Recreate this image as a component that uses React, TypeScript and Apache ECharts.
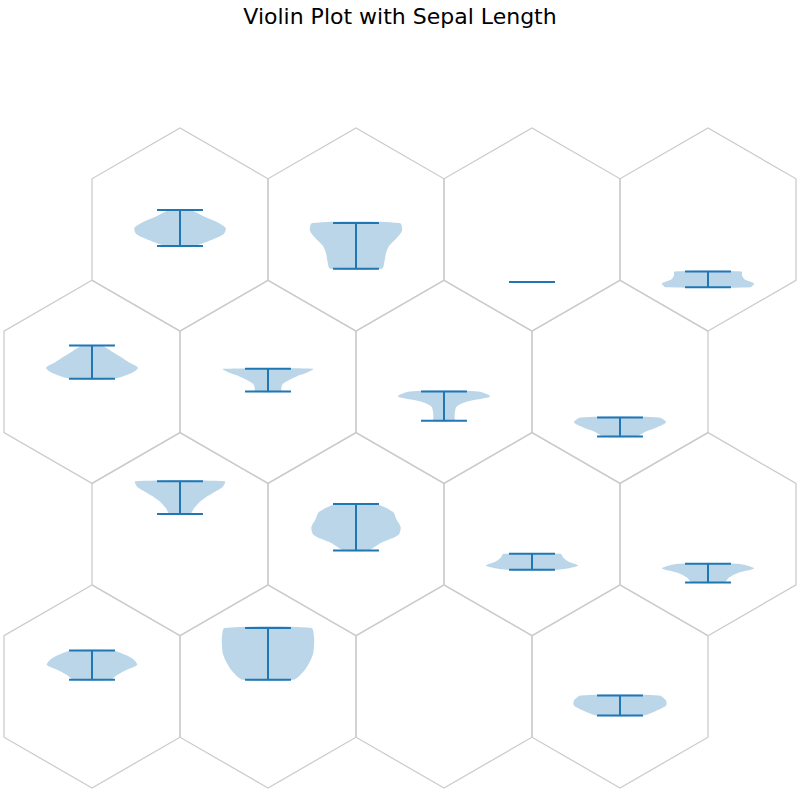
import React, { useEffect, useRef } from 'react';
import * as echarts from 'echarts';

// hex cell positions (row 0 at top; odd rows shifted half a cell left)
const cellRow = [0, 0, 0, 0, 1, 1, 1, 1, 2, 2, 2, 2, 3, 3, 3, 3];
const cellCol = [0, 1, 2, 3, 0, 1, 2, 3, 0, 1, 2, 3, 0, 1, 2, 3];

// violin extents, offset from the hex centre in hex-radius units (up is positive); null = empty cell
const violinLow: (number | null)[] = [
  -0.161, -0.385, -0.516, -0.568,
  0.03, -0.095, -0.384, -0.538,
  0.198, -0.16, -0.35, -0.475,
  0.067, 0.067, null, -0.287,
];
const violinHigh: (number | null)[] = [
  0.193, 0.065, -0.516, -0.414,
  0.357, 0.128, -0.095, -0.351,
  0.52, 0.296, -0.193, -0.291,
  0.355, 0.576, null, -0.088,
];

// normalised half-widths of each violin, sampled evenly from its bottom to its top
const violinShape: number[][] = [
  [0.29, 0.68, 0.95, 0.99, 0.8, 0.5, 0.22],
  [0.56, 0.62, 0.65, 0.72, 0.88, 1.0, 0.95],
  [],
  [0.92, 1.0, 0.8, 0.74, 0.73],
  [0.45, 0.85, 1.0, 0.8, 0.62, 0.42, 0.2],
  [0.28, 0.29, 0.32, 0.45, 0.62, 0.85, 0.98],
  [0.22, 0.23, 0.24, 0.28, 0.52, 1.0, 0.75],
  [0.35, 0.55, 0.82, 1.0, 0.85],
  [0.22, 0.3, 0.4, 0.55, 0.74, 0.93, 0.97],
  [0.25, 0.55, 0.92, 0.97, 0.88, 0.8, 0.42],
  [0.55, 1.0, 0.8, 0.68, 0.62],
  [0.35, 0.45, 0.65, 1.0, 0.65],
  [0.4, 0.55, 0.75, 0.98, 0.92, 0.75, 0.45],
  [0.55, 0.78, 0.9, 0.98, 1.0, 1.0, 0.94],
  [],
  [0.5, 0.8, 1.0, 1.0, 0.85],
];

const SQ3 = Math.sqrt(3);
const VIOLIN_W = 0.453; // max half-width in hex-radius units
const CAP_W = 0.226;

const App: React.FC = () => {
  const chartRef = useRef<HTMLDivElement>(null);

  useEffect(() => {
    document.body.style.margin = '0';
    if (!chartRef.current) return;
    const chart = echarts.init(chartRef.current, undefined, { renderer: 'svg' });

    const renderItem = (params: any, api: any) => {
      const i = api.value(0);
      const row = cellRow[i];
      const cx = SQ3 * (cellCol[i] + (row % 2 === 0 ? 1 : 0.5));
      const cy = 1 + 1.5 * row;
      const children: any[] = [];

      const hex: number[][] = [];
      for (let k = 0; k < 6; k++) {
        const a = ((90 + 60 * k) * Math.PI) / 180;
        hex.push(api.coord([cx + Math.cos(a), cy + Math.sin(a)]));
      }
      children.push({
        type: 'polygon',
        shape: { points: hex },
        style: { fill: 'none', stroke: '#cccccc', lineWidth: 1.3 },
      });

      const lo = violinLow[i];
      const hi = violinHigh[i];
      if (lo === null || hi === null) return { type: 'group', children };

      const shape = violinShape[i];
      if (shape.length > 1) {
        const right: number[][] = [];
        const left: number[][] = [];
        shape.forEach((s, j) => {
          const v = lo + ((hi - lo) * j) / (shape.length - 1);
          right.push(api.coord([cx + s * VIOLIN_W, cy - v]));
          left.push(api.coord([cx - s * VIOLIN_W, cy - v]));
        });
        children.push({
          type: 'polygon',
          shape: { points: right.concat(left.reverse()), smooth: 0.28 },
          style: { fill: 'rgba(31,119,180,0.3)', stroke: 'none' },
        });
      }

      const line = (x1: number, y1: number, x2: number, y2: number) => {
        const p1 = api.coord([x1, y1]);
        const p2 = api.coord([x2, y2]);
        children.push({
          type: 'line',
          shape: { x1: p1[0], y1: p1[1], x2: p2[0], y2: p2[1] },
          style: { stroke: '#1f77b4', lineWidth: 2 },
        });
      };
      line(cx - CAP_W, cy - lo, cx + CAP_W, cy - lo);
      line(cx - CAP_W, cy - hi, cx + CAP_W, cy - hi);
      if (hi > lo) line(cx, cy - lo, cx, cy - hi);

      return { type: 'group', children };
    };

    chart.setOption({
      animation: false,
      title: {
        text: 'Violin Plot with Sepal Length',
        left: 'center',
        top: 0,
        textStyle: { fontSize: 22, fontWeight: 'normal', color: '#000', fontFamily: 'DejaVu Sans' },
      },
      grid: { left: 4, top: 128, width: 792, height: 660 },
      xAxis: { type: 'value', min: 0, max: 4.5 * SQ3, show: false },
      yAxis: { type: 'value', min: 0, max: 6.5, inverse: true, show: false },
      series: [
        {
          type: 'custom',
          clip: false,
          silent: true,
          renderItem,
          data: cellRow.map((_, i) => [i]),
        },
      ],
    });

    return () => {
      chart.dispose();
    };
  }, []);

  return <div ref={chartRef} style={{ width: '800px', height: '800px' }} />;
};

export default App;
